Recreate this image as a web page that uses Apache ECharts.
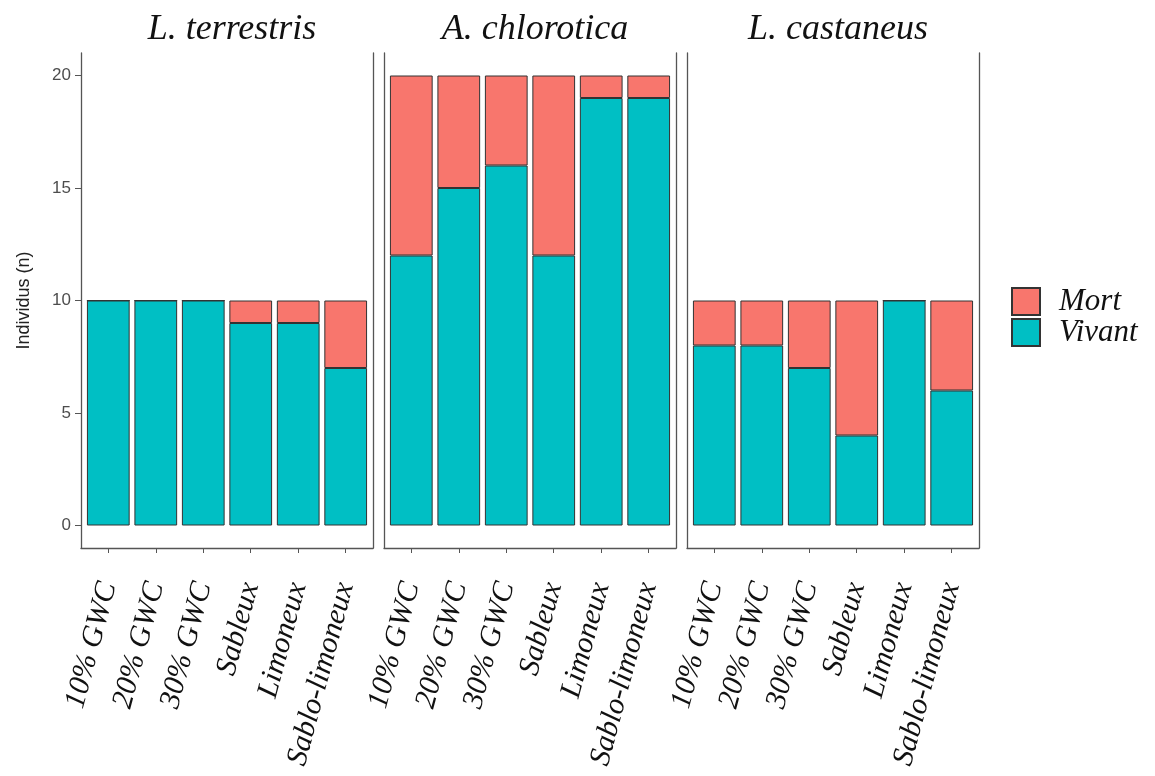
<!DOCTYPE html>
<html>
<head>
<meta charset="utf-8">
<script src="https://cdn.jsdelivr.net/npm/echarts@6/dist/echarts.min.js"></script>
<style>
  html, body { margin: 0; padding: 0; background: #fff; }
  #container { width: 1155px; height: 776px; }
</style>
</head>
<body>
<div id="container"></div>
<script>
// data
var species = ['L. terrestris', 'A. chlorotica', 'L. castaneus'];
var treatments = ['10% GWC', '20% GWC', '30% GWC', 'Sableux', 'Limoneux', 'Sablo-limoneux'];
var vivant = [
    [10, 10, 10, 9, 9, 7],
    [12, 15, 16, 12, 19, 19],
    [8, 8, 7, 4, 10, 6]
];
var mort = [
    [0, 0, 0, 1, 1, 3],
    [8, 5, 4, 8, 1, 1],
    [2, 2, 3, 6, 0, 4]
];
var yTicks = [0, 5, 10, 15, 20];

// layout
var panelLeft = [81, 384, 687];
var panelWidth = 292;
var panelTop = 53;
var panelHeight = 495;
var pitch = panelWidth / 6.15;          // width of one category band
var dataWidth = pitch * treatments.length;
var lineColor = '#555';
var serif = '"Liberation Serif", "Times New Roman", serif';
var sans = '"Liberation Sans", Arial, sans-serif';

var dom = document.getElementById('container');
var myChart = echarts.init(dom, null, { renderer: 'canvas' });

var grids = [], xAxes = [], yAxes = [], series = [], titles = [];

for (var i = 0; i < species.length; i++) {
    // grid 2i: panel frame, grid 2i+1: bars
    grids.push({ left: panelLeft[i], top: panelTop, width: panelWidth, height: panelHeight });
    grids.push({
        left: panelLeft[i] + (panelWidth - dataWidth) / 2,
        top: panelTop,
        width: dataWidth,
        height: panelHeight
    });

    titles.push({
        text: species[i],
        left: panelLeft[i] + panelWidth / 2,
        top: 7,
        textAlign: 'center',
        textStyle: {
            fontFamily: serif,
            fontStyle: 'italic',
            fontWeight: 'normal',
            fontSize: 36,
            color: '#111'
        }
    });

    // frame: bottom line
    xAxes.push({
        type: 'value',
        gridIndex: 2 * i,
        min: 0,
        max: 1,
        splitLine: { show: false },
        axisLine: { show: true, onZero: false, lineStyle: { color: lineColor, width: 1.3 } },
        axisTick: { show: false },
        axisLabel: { show: false }
    });
    // bars: treatments
    xAxes.push({
        type: 'category',
        gridIndex: 2 * i + 1,
        data: treatments,
        axisLine: { show: false, onZero: false },
        axisTick: { show: true, alignWithLabel: true, length: 5, lineStyle: { color: lineColor } },
        axisLabel: {
            interval: 0,
            rotate: 75,
            margin: 35,
            fontFamily: serif,
            fontStyle: 'italic',
            fontSize: 30,
            color: '#111'
        }
    });

    // frame: left line
    yAxes.push({
        type: 'value',
        gridIndex: 2 * i,
        min: -1,
        max: 21,
        name: i === 0 ? 'Individus (n)' : '',
        nameLocation: 'middle',
        nameRotate: 90,
        nameGap: 48,
        nameTextStyle: { fontFamily: sans, fontSize: 18, color: '#222' },
        axisLine: { show: true, onZero: false, lineStyle: { color: lineColor, width: 1.3 } },
        axisTick: { show: i === 0, customValues: yTicks, length: 6, lineStyle: { color: lineColor } },
        axisLabel: {
            show: i === 0,
            customValues: yTicks,
            margin: 10,
            fontFamily: sans,
            fontSize: 17,
            color: '#4d4d4d'
        },
        splitLine: { show: false }
    });
    // frame: right line
    yAxes.push({
        type: 'value',
        gridIndex: 2 * i,
        position: 'right',
        min: -1,
        max: 21,
        axisLine: { show: true, onZero: false, lineStyle: { color: lineColor, width: 1.3 } },
        axisTick: { show: false },
        axisLabel: { show: false },
        splitLine: { show: false }
    });
    // bars: counts
    yAxes.push({
        type: 'value',
        gridIndex: 2 * i + 1,
        min: -1,
        max: 21,
        axisLine: { show: false },
        axisTick: { show: false },
        axisLabel: { show: false },
        splitLine: { show: false }
    });

    series.push({
        name: 'Vivant',
        type: 'bar',
        stack: 'p' + i,
        xAxisIndex: 2 * i + 1,
        yAxisIndex: 3 * i + 2,
        barWidth: '90%',
        itemStyle: { color: '#00BFC4', borderColor: '#333', borderWidth: 1 },
        data: vivant[i]
    });

    series.push({
        name: 'Mort',
        type: 'bar',
        stack: 'p' + i,
        xAxisIndex: 2 * i + 1,
        yAxisIndex: 3 * i + 2,
        barWidth: '90%',
        itemStyle: { color: '#F8766D', borderColor: '#333', borderWidth: 1 },
        data: mort[i]
    });
}

var option = {
    animation: false,
    title: titles,
    legend: {
        data: ['Mort', 'Vivant'],
        orient: 'vertical',
        left: 1011,
        top: 286,
        padding: 0,
        icon: 'rect',
        itemWidth: 28,
        itemHeight: 27,
        itemGap: 0,
        textStyle: {
            fontFamily: serif,
            fontStyle: 'italic',
            fontSize: 31,
            lineHeight: 27,
            color: '#111',
            padding: [0, 0, 0, 14]
        }
    },
    grid: grids,
    xAxis: xAxes,
    yAxis: yAxes,
    series: series
};

myChart.setOption(option);

window.addEventListener('resize', myChart.resize);
</script>
</body>
</html>
